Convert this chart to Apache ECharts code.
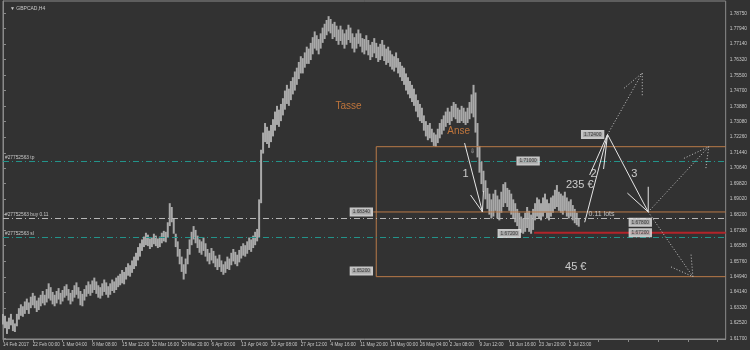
<!DOCTYPE html>
<html><head><meta charset="utf-8">
<script src="https://cdn.jsdelivr.net/npm/echarts@6/dist/echarts.min.js"></script>
<style>html,body{margin:0;padding:0;background:#323232}#c{width:750px;height:350px}</style>
</head><body><div id="c"></div>
<script>
const symbolTitle = '\u25BC GBPCAD,H4';
const dateLabels = ['14 Feb 2017','22 Feb 00:00','1 Mar 04:00','8 Mar 08:00','15 Mar 12:00','22 Mar 16:00','29 Mar 20:00','6 Apr 00:00','13 Apr 04:00','20 Apr 08:00','27 Apr 12:00','4 May 16:00','11 May 20:00','19 May 00:00','26 May 04:00','2 Jun 08:00','9 Jun 12:00','16 Jun 16:00','23 Jun 20:00','2 Jul 23:00'];
const priceTicks = [1.78750,1.77940,1.77140,1.76320,1.75500,1.74700,1.73880,1.73080,1.72260,1.71440,1.70640,1.69820,1.69020,1.68200,1.67380,1.66580,1.65760,1.64940,1.64140,1.63320,1.62520,1.61700];

const highs = [
1.6300,1.6290,1.6260,1.6280,1.6300,1.6270,1.6250,1.6300,
1.6330,1.6350,1.6340,1.6365,1.6380,1.6360,1.6390,
1.6410,1.6395,1.6370,1.6385,1.6400,1.6420,1.6400,1.6430,
1.6460,1.6440,1.6415,1.6400,1.6420,1.6435,1.6410,1.6425,
1.6445,1.6455,1.6430,1.6410,1.6425,1.6450,1.6465,1.6440,1.6420,1.6405,1.6430,1.6450,1.6470,1.6455,
1.6475,1.6490,1.6470,1.6450,1.6440,1.6460,1.6480,1.6465,1.6445,1.6460,1.6480,1.6470,1.6490,1.6500,
1.6510,1.6530,1.6520,1.6545,1.6565,1.6555,1.6580,1.6600,
1.6620,1.6650,1.6670,1.6690,1.6705,1.6725,1.6715,1.6695,
1.6700,1.6720,1.6710,1.6695,1.6705,1.6725,1.6735,1.6730,
1.6780,1.6880,1.6860,1.6800,
1.6720,1.6680,1.6640,1.6600,1.6560,1.6590,1.6640,1.6690,
1.6730,1.6760,1.6740,1.6710,1.6690,
1.6680,1.6700,1.6670,1.6640,1.6620,1.6645,1.6630,1.6605,
1.6590,1.6610,1.6580,1.6560,1.6575,1.6600,1.6590,
1.6620,1.6640,1.6625,1.6610,1.6635,1.6655,1.6670,1.6660,
1.6680,1.6700,1.6690,1.6710,1.6730,1.6745,
1.6900,1.7160,
1.7250,1.7300,1.7280,1.7260,1.7290,1.7320,
1.7360,1.7390,1.7370,1.7400,1.7430,
1.7470,1.7500,1.7480,1.7520,1.7540,1.7570,1.7590,
1.7620,1.7650,1.7640,1.7670,1.7700,1.7690,1.7720,
1.7750,1.7780,1.7760,1.7740,1.7770,1.7800,
1.7820,1.7840,1.7860,1.7845,1.7820,1.7830,1.7810,1.7790,
1.7810,1.7790,1.7770,1.7790,1.7815,1.7800,1.7770,1.7750,1.7770,1.7790,1.7770,1.7745,
1.7740,1.7760,1.7735,1.7710,1.7725,1.7745,1.7720,1.7700,
1.7715,1.7735,1.7710,1.7690,1.7700,1.7680,1.7660,
1.7650,1.7670,1.7640,1.7620,1.7600,
1.7590,1.7560,1.7540,1.7520,1.7500,
1.7480,1.7450,1.7420,1.7400,1.7380,
1.7340,1.7310,1.7290,1.7300,1.7270,
1.7250,1.7240,1.7270,1.7300,1.7320,
1.7340,1.7360,1.7380,1.7360,1.7390,
1.7410,1.7400,1.7380,1.7370,1.7390,
1.7380,1.7360,1.7380,1.7410,1.7450,1.7500,
1.7460,1.7300,1.7180,1.7100,1.7050,1.7000,
1.6960,1.6930,1.6900,1.6930,1.6950,1.6920,1.6900,1.6940,1.6980,
1.6990,1.6960,1.6950,1.6930,1.6900,
1.6880,1.6850,1.6830,1.6810,1.6800,1.6830,1.6860,1.6840,1.6820,1.6850,
1.6880,1.6910,1.6900,1.6880,1.6910,1.6930,1.6900,1.6880,1.6910,1.6920,1.6950,
1.6975,1.6940,
1.6930,1.6920,1.6940,1.6910,1.6890,1.6900,1.6870,
1.6850,1.6830,1.6800];
const lows = [
1.6245,1.6225,1.6195,1.6220,1.6240,1.6210,1.6205,1.6235,
1.6270,1.6290,1.6285,1.6300,1.6320,1.6300,1.6330,
1.6345,1.6330,1.6310,1.6320,1.6340,1.6355,1.6345,1.6360,
1.6380,1.6370,1.6350,1.6340,1.6355,1.6375,1.6350,1.6365,
1.6385,1.6395,1.6370,1.6350,1.6365,1.6385,1.6400,1.6380,1.6345,1.6340,1.6370,1.6390,1.6405,1.6395,
1.6410,1.6425,1.6405,1.6385,1.6380,1.6395,1.6415,1.6400,1.6385,1.6400,1.6420,1.6410,1.6425,1.6440,
1.6450,1.6460,1.6455,1.6480,1.6500,1.6495,1.6515,1.6535,
1.6550,1.6580,1.6600,1.6630,1.6650,1.6660,1.6655,1.6640,
1.6650,1.6665,1.6655,1.6645,1.6650,1.6670,1.6680,1.6675,
1.6700,1.6760,1.6780,1.6720,
1.6650,1.6600,1.6560,1.6520,1.6480,1.6510,1.6560,1.6610,
1.6660,1.6690,1.6670,1.6645,1.6620,
1.6610,1.6630,1.6600,1.6575,1.6560,1.6580,1.6565,1.6545,
1.6530,1.6545,1.6520,1.6505,1.6515,1.6535,1.6530,
1.6555,1.6575,1.6560,1.6550,1.6570,1.6590,1.6605,1.6600,
1.6615,1.6635,1.6625,1.6645,1.6660,1.6680,
1.6700,1.6880,
1.7140,1.7200,1.7190,1.7170,1.7200,1.7230,
1.7260,1.7290,1.7280,1.7310,1.7340,
1.7370,1.7400,1.7390,1.7420,1.7450,1.7470,1.7500,
1.7530,1.7560,1.7560,1.7590,1.7610,1.7610,1.7630,
1.7660,1.7690,1.7680,1.7660,1.7690,1.7720,
1.7740,1.7760,1.7780,1.7770,1.7740,1.7750,1.7730,1.7710,
1.7730,1.7710,1.7690,1.7710,1.7735,1.7720,1.7690,1.7670,1.7690,1.7715,1.7700,1.7670,
1.7660,1.7680,1.7655,1.7630,1.7645,1.7665,1.7640,1.7620,
1.7630,1.7650,1.7625,1.7605,1.7615,1.7595,1.7580,
1.7570,1.7590,1.7560,1.7540,1.7520,
1.7500,1.7470,1.7450,1.7430,1.7410,
1.7390,1.7360,1.7330,1.7310,1.7300,
1.7260,1.7230,1.7210,1.7220,1.7200,
1.7180,1.7175,1.7195,1.7220,1.7240,
1.7260,1.7280,1.7300,1.7290,1.7310,
1.7330,1.7320,1.7300,1.7300,1.7310,
1.7300,1.7290,1.7300,1.7320,1.7350,1.7330,
1.7250,1.7120,1.7040,1.6980,1.6940,1.6900,
1.6850,1.6820,1.6800,1.6810,1.6840,1.6800,1.6790,1.6830,1.6860,
1.6880,1.6860,1.6840,1.6820,1.6800,
1.6780,1.6760,1.6740,1.6725,1.6720,1.6730,1.6750,1.6730,1.6720,1.6740,
1.6790,1.6810,1.6800,1.6790,1.6810,1.6830,1.6800,1.6790,1.6810,1.6830,1.6850,
1.6860,1.6840,
1.6830,1.6820,1.6840,1.6810,1.6800,1.6810,1.6790,
1.6775,1.6765,1.6757];

// order / level values
const tpLevel = 1.7101, buyLevel = 1.6780, slLevel = 1.6721, bidPrice = 1.67765;
const orderLabels = ['#27752563 tp', '#27752563 buy 0.11', '#27752563 sl'];
const boxTop = 1.7176, boxMid = 1.6834, boxBot = 1.6495, boxStart = 188, midStart = 186.5;
const lossLevel = 1.6725, lossStart = 267.5;
// annotation arrows (bar index, price)
const arrow1 = [[232.5,1.7195],[241.5,1.6834]], head1 = [[235.5,1.6923],[241.5,1.6834],[242,1.6944]];
const arrow2 = [[293,1.6780],[304.5,1.7240]], head2 = [[295.5,1.7028],[304.5,1.7240],[302.5,1.7059]];
const arrow3 = [[304.5,1.7240],[325,1.6834]], head3 = [[314.5,1.6933],[325,1.6834],[325,1.6966]];
const dotA = [[304.5,1.7240],[322,1.7562]], dotHeadA = [[312.8,1.7482],[322,1.7562],[322,1.7438]];
const dotB = [[325,1.6834],[355.5,1.7176]], dotHeadB = [[343,1.7115],[355.5,1.7176],[354,1.7060]];
const dotC = [[325,1.6834],[347.5,1.6495]], dotHeadC = [[336.5,1.6546],[347.5,1.6495],[346.5,1.6619]];
// price tags
const tagTexts = ['1.72400','1.71000','1.67800','1.67200','1.67200','1.68340','1.65200'];
const tagPos = [[297,1.7240],[264.5,1.7101],[321,1.6780],[321,1.6725],[255,1.6721],[180.5,1.6834],[180.5,1.6525]];
// notes
const noteTexts = ['Tasse','Anse','235 \u20AC','45 \u20AC','1','2','3','0.11 lots','\u21E9'];
const notePos = [[174,1.7389],[229.5,1.7258],[290.5,1.6975],[288.5,1.6545],[233,1.7033],[297.5,1.7033],[318,1.7033],[301.5,1.6823],[236.5,1.7150]];
const noteKind = ['orange','orange','big','big','big','big','big','small','tiny'];

const FONT = 'Liberation Sans';
const axisTxt = '#c8c8c8';
const orange = '#b97a48';
const teal = '#23938a';
const dashDot = [6,3,1,3];

const chart = echarts.init(document.getElementById('c'));
const seg = (data, color, type, width, z) => ({type:'line', data, symbol:'none', silent:true, animation:false, z: z||4,
  lineStyle:{color, type, width}});
const noteStyle = {
  orange:{color:'#e0853e', fontSize:10},
  big:{color:'#f0f0f0', fontSize:11},
  small:{color:'#e0e0e0', fontSize:7},
  tiny:{color:'#e0e0e0', fontSize:6}
};

const option = {
  backgroundColor:'#323232',
  animation:false,
  title:{text:symbolTitle, left:5, top:1, textStyle:{color:axisTxt, fontSize:5, fontWeight:'normal', fontFamily:FONT}},
  grid:{left:2, right:20, top:1, bottom:11, show:true, borderColor:'#8a8a8a', borderWidth:1, backgroundColor:'transparent'},
  xAxis:{type:'value', min:0, max:364, interval:15,
    axisLine:{show:true, lineStyle:{color:'#8a8a8a'}},
    axisTick:{show:true, length:3, lineStyle:{color:'#8a8a8a'}},
    splitLine:{show:false},
    axisLabel:{color:axisTxt, fontSize:4.6, fontFamily:FONT, align:'left', margin:3, showMaxLabel:false,
      formatter:v => dateLabels[Math.round(v/15)] || ''}},
  yAxis:{type:'value', position:'right', min:1.61684, max:1.79394, scale:true,
    axisLine:{show:true, lineStyle:{color:'#8a8a8a'}},
    axisTick:{show:true, length:3, customValues:priceTicks, lineStyle:{color:'#8a8a8a'}},
    splitLine:{show:false},
    axisLabel:{color:axisTxt, fontSize:4.8, fontFamily:FONT, margin:4, customValues:priceTicks,
      formatter:v => v.toFixed(5)}},
  series:[
    {type:'custom', name:'bars', silent:true, z:2, animation:false,
      data: highs.map((h,i)=>[i, lows[i], h]),
      encode:{x:0, y:[1,2]},
      renderItem:(params, api) => {
        const x = api.value(0);
        const top = api.coord([x, api.value(2)]);
        const bot = api.coord([x, api.value(1)]);
        return {type:'rect', shape:{x:top[0]-1, y:top[1], width:2, height:Math.max(1, bot[1]-top[1])},
          style:{fill:'#a9a9a9'}};
      },
      markLine:{silent:true, symbol:['none','none'], animation:false,
        data:[
          {yAxis:tpLevel, lineStyle:{color:teal, type:dashDot, width:1},
            label:{show:true, position:'insideStartTop', formatter:orderLabels[0], color:axisTxt, fontSize:4.8, fontFamily:FONT, distance:[2,1]}},
          {yAxis:buyLevel, lineStyle:{color:'#b8b8b8', type:dashDot, width:1},
            label:{show:true, position:'insideStartTop', formatter:orderLabels[1], color:axisTxt, fontSize:4.8, fontFamily:FONT, distance:[2,1]}},
          {yAxis:slLevel, lineStyle:{color:teal, type:dashDot, width:1},
            label:{show:true, position:'insideStartTop', formatter:orderLabels[2], color:axisTxt, fontSize:4.8, fontFamily:FONT, distance:[2,1]}},
          {yAxis:bidPrice, lineStyle:{opacity:0},
            label:{show:true, position:'end', formatter:bidPrice.toFixed(5), color:'#000', backgroundColor:'#ececec', fontSize:4.8, fontFamily:FONT, padding:[1,2], distance:2}}
        ]}
    },
    seg([[boxStart,boxTop],[364,boxTop]], orange, 'solid', 1),
    seg([[midStart,boxMid],[364,boxMid]], orange, 'solid', 1),
    seg([[boxStart,boxBot],[364,boxBot]], orange, 'solid', 1),
    seg([[boxStart,boxTop],[boxStart,boxBot]], orange, 'solid', 1),
    seg([[lossStart,lossLevel],[364,lossLevel]], '#b3242a', 'solid', 2),
    seg(arrow1, '#e6e6e6', 'solid', 1, 6), seg(head1, '#e6e6e6', 'solid', 1, 6),
    seg(arrow2, '#e6e6e6', 'solid', 1, 6), seg(head2, '#e6e6e6', 'solid', 1, 6),
    seg(arrow3, '#e6e6e6', 'solid', 1, 6), seg(head3, '#e6e6e6', 'solid', 1, 6),
    seg(dotA, '#c8c8c8', [1,2], 1, 6), seg(dotHeadA, '#c8c8c8', [1,2], 1, 6),
    seg(dotB, '#c8c8c8', [1,2], 1, 6), seg(dotHeadB, '#c8c8c8', [1,2], 1, 6),
    seg(dotC, '#c8c8c8', [1,2], 1, 6), seg(dotHeadC, '#c8c8c8', [1,2], 1, 6),
    {type:'scatter', silent:true, z:8, animation:false, symbolSize:0,
      data: tagPos.map((p,i)=>({value:p, label:{formatter:tagTexts[i]}})),
      label:{show:true, position:'inside', color:'#1a1a1a', backgroundColor:'#c4c4c4', borderColor:'#eeeeee', borderWidth:1,
        fontSize:4.8, fontFamily:FONT, padding:[1,2]}},
    {type:'scatter', silent:true, z:9, animation:false, symbolSize:0,
      data: notePos.map((p,i)=>({value:p, label:Object.assign({formatter:noteTexts[i]}, noteStyle[noteKind[i]])})),
      label:{show:true, position:'inside', fontFamily:FONT}}
  ]
};
chart.setOption(option);
</script>
</body></html>
